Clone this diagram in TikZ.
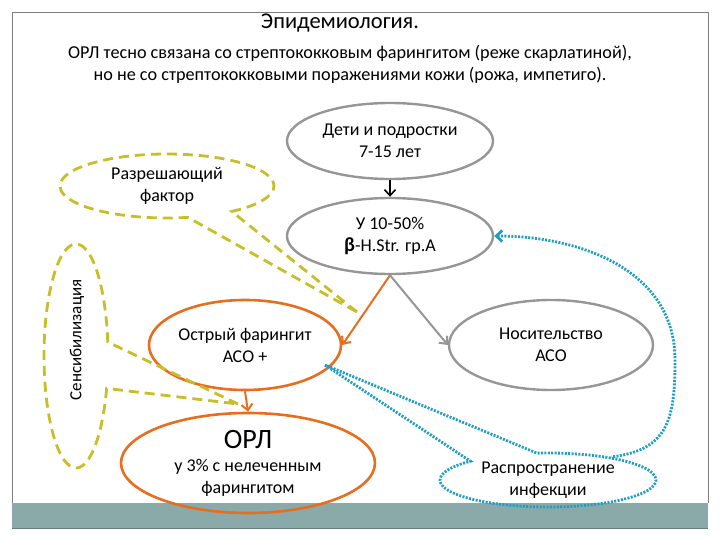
\documentclass[tikz,border=0pt]{standalone}
\usepackage{fontspec}
\setmainfont{Carlito}
\usetikzlibrary{shapes.geometric,shapes.callouts,arrows.meta}
\definecolor{grayc}{RGB}{150,150,150}
\definecolor{orangec}{RGB}{230,110,30}
\definecolor{yellowc}{RGB}{200,190,40}
\definecolor{bluec}{RGB}{30,158,198}
\definecolor{barc}{RGB}{138,170,170}
\definecolor{framec}{RGB}{128,128,128}
\begin{document}
\begin{tikzpicture}[x=1pt,y=-1pt,
  txt/.style={font=\fontsize{18}{22}\selectfont,align=center,inner sep=0pt},
  el/.style={ellipse,draw,line width=2.4pt,txt},
  grayel/.style={el,draw=grayc},
  orel/.style={el,draw=orangec,line width=2.6pt},
  yco/.style={ellipse callout,draw=yellowc,line width=2.8pt,dash pattern=on 10pt off 6pt,txt},
  bco/.style={ellipse callout,draw=bluec,line width=2.8pt,dash pattern=on 2pt off 1.4pt,txt},
  arr/.style={-{Straight Barb[length=6pt,width=11pt]},line width=2pt}
]
\useasboundingbox (0,0) rectangle (720,540);
% frame and bar
\draw[framec,line width=1pt] (12,503) -- (12,13) -- (708,13) -- (708,503);
\fill[barc] (12,503) rectangle (708,528);
\draw[barc!75!black,line width=0.6pt] (12,528) -- (708,528);
% titles
\node[font=\fontsize{22.5}{26}\selectfont,inner sep=0pt] (title) at (340,23) {Эпидемиология.};
\node[font=\fontsize{18.2}{22}\selectfont,align=center,inner sep=0pt] (sub) at (350,64)
  {ОРЛ тесно связана со стрептококковым фарингитом (реже скарлатиной),\\но не со стрептококковыми поражениями кожи (рожа, импетиго).};
% tips of callouts
\coordinate (tipR) at (357,312);
\coordinate (tipS) at (238,404);
\coordinate (tipB) at (325,365);
% main ellipses
\node[grayel,minimum width=206pt,minimum height=76pt] (d) at (390,141) {Дети и подростки\\7-15 лет};
\node[grayel,minimum width=206pt,minimum height=76pt] (u) at (390,236) {У 10-50\%\\\textbf{\fontsize{20}{22}\selectfont β}-H.Str. гр.А};
\node[grayel,minimum width=204pt,minimum height=90pt] (n) at (551,345) {Носительство\\АСО};
\node[orel,minimum width=254pt,minimum height=100pt,font=\fontsize{18}{22}\selectfont] (o) at (248,463) {{\fontsize{28}{30}\selectfont ОРЛ}\\[1pt]у 3\% с нелеченным\\фарингитом};
\node[orel,minimum width=192pt,minimum height=90pt] (f) at (245,345) {Острый фарингит\\АСО +};
% callouts
\node[yco,minimum width=214pt,minimum height=64pt,callout absolute pointer={(tipR)},callout pointer arc=26] (r) at (167,186) {Разрешающий\\фактор};
\node[yco,minimum width=64pt,minimum height=224pt,callout absolute pointer={(tipS)},callout pointer arc=24] (s) at (76,356) {};
\node[txt,rotate=90,font=\fontsize{17}{20}\selectfont] (stext) at (77,340) {Сенсибилизация};
\node[bco,minimum width=216pt,minimum height=54pt,callout absolute pointer={(tipB)},callout pointer arc=40] (b) at (548,480) {Распространение\\инфекции};
% arrows
\draw[arr,black,line width=1.6pt] (d.south) -- (u.north);
\draw[arr,orangec] (u.south) -- (f.east);
\draw[arr,grayc] (u.south) -- (n.west);
\draw[arr,orangec] (f.south) -- (o.north);
\draw[bluec,line width=2.8pt,dash pattern=on 2pt off 1.4pt,{Straight Barb[length=6pt,width=11pt]}-]
  (u.east) .. controls (580,236) and (675,270) .. (675,360) .. controls (675,420) and (668,450) .. (b.20);
\end{tikzpicture}
\end{document}
